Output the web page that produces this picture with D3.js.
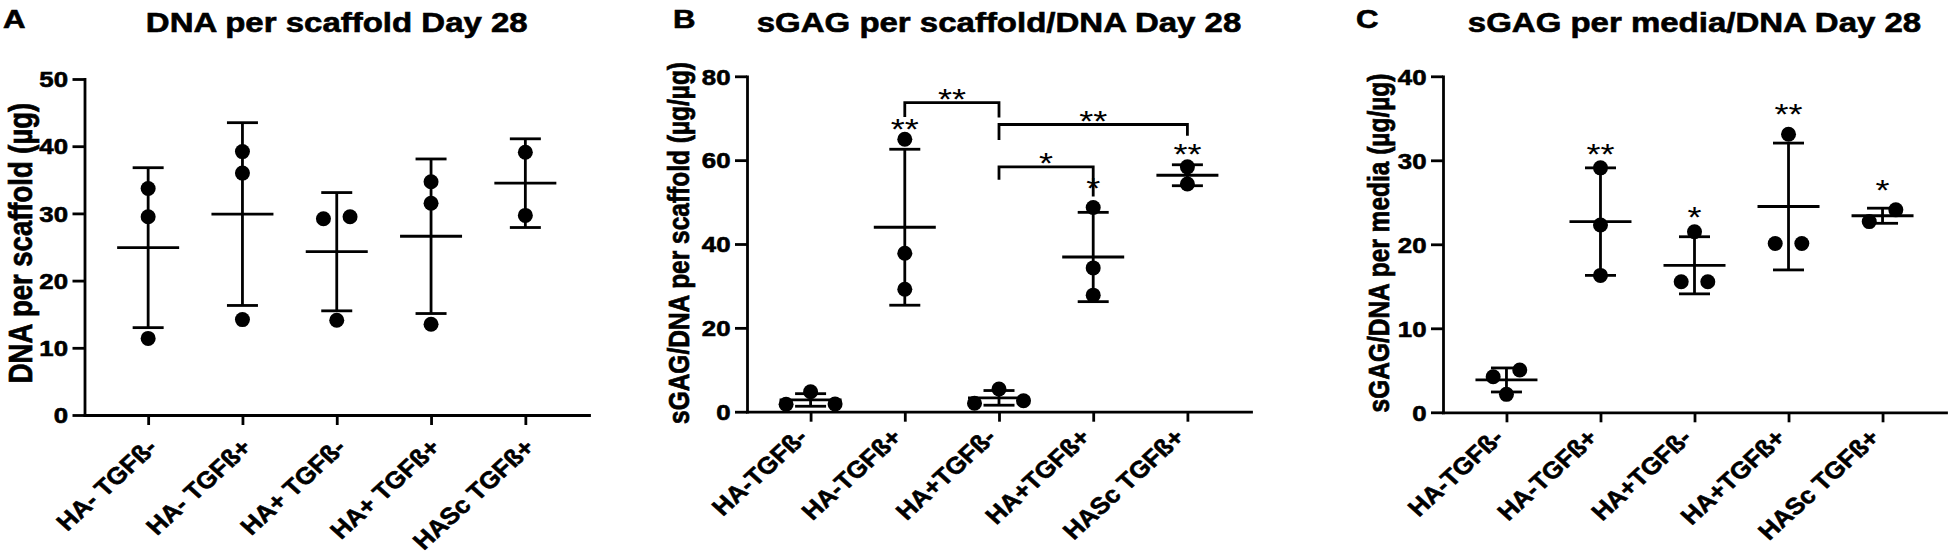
<!DOCTYPE html>
<html>
<head>
<meta charset="utf-8">
<script src="https://cdn.jsdelivr.net/npm/d3@7"></script>
<style>
  html, body { margin: 0; padding: 0; background: #fff; overflow: hidden; }
  text { font-family: "Liberation Sans", Arial, sans-serif; fill: #000; }
  text.heavy { stroke: #000; stroke-width: 0.6px; }
</style>
</head>
<body>
<svg id="chart" width="1950" height="559"></svg>
<script>
// x categories (panel A has a space after HA+/HA-)
const categoriesA = ["HA- TGFß-", "HA- TGFß+", "HA+ TGFß-", "HA+ TGFß+", "HASc TGFß+"];
const categoriesBC = ["HA-TGFß-", "HA-TGFß+", "HA+TGFß-", "HA+TGFß+", "HASc TGFß+"];

// A: DNA per scaffold (µg)
const dnaPoints = [[33.7, 29.5, 11.4], [39.2, 36.0, 14.2], [29.2, 29.5, 14.1], [34.7, 31.5, 13.5], [39.1, 29.7]];
const dnaMean = [24.9, 29.9, 24.3, 26.6, 34.5];
const dnaSD = [11.9, 13.6, 8.8, 11.5, 6.6];
const dnaTicks = [0, 10, 20, 30, 40, 50];

// B: sGAG per scaffold / DNA (µg/µg)
const scaffoldPoints = [[1.76, 4.77, 1.84], [65.0, 37.8, 29.2], [2.0, 5.4, 2.6], [48.7, 34.3, 27.8], [58.4, 54.3]];
const scaffoldMean = [2.8, 44.0, 3.3, 36.9, 56.4];
const scaffoldSD = [1.5, 18.6, 1.75, 10.65, 2.5];
const scaffoldTicks = [0, 20, 40, 60, 80];
const scaffoldStars = ["", "**", "", "*", "**"];
const scaffoldStarLevel = [null, 68.8, null, 54.6, 62.8];
// [from group, to group, bar level, left leg end, right leg end, label]
const scaffoldBrackets = [
  [1, 2, 73.7, 70.3, 70.2, "**"],
  [2, 4, 68.5, 64.8, 65.8, "**"],
  [2, 3, 58.4, 55.3, 51.3, "*"]
];

// C: sGAG per media / DNA (µg/µg)
const mediaPoints = [[4.24, 5.04, 2.14], [29.1, 22.3, 16.3], [21.5, 15.55, 15.55], [33.1, 20.1, 20.1], [22.7, 24.1]];
const mediaMean = [3.85, 22.7, 17.5, 24.5, 23.4];
const mediaSD = [1.43, 6.4, 3.4, 7.55, 0.9];
const mediaTicks = [0, 10, 20, 30, 40];
const mediaStars = ["", "**", "*", "**", "*"];
const mediaStarLevel = [null, 31.4, 23.9, 36.2, 27.1];

// the original figure is stretched sideways, so text gets the same stretch
const STRETCH = 1.2;
const LABEL_STRETCH = 1.1;
const LINE = 2.8;

const svg = d3.select('#chart');

// spread points that sit on top of each other sideways, like Prism does
function swarmOffsets(vals, y) {
    const order = vals.map((v, i) => i).sort((a, b) => vals[a] - vals[b]);
    const offs = vals.map(() => 0);
    let cluster = [order[0]];
    const flush = () => {
        if (cluster.length === 2) { offs[cluster[0]] = -13.3; offs[cluster[1]] = 13.3; }
        if (cluster.length === 3) { offs[cluster[0]] = -24.5; offs[cluster[1]] = 24.5; offs[cluster[2]] = 0; }
    };
    for (let k = 1; k < order.length; k++) {
        if (Math.abs(y(vals[order[k]]) - y(vals[order[k - 1]])) < 15) cluster.push(order[k]);
        else { flush(); cluster = [order[k]]; }
    }
    flush();
    return offs;
}

function drawPanel(p) {
    const g = svg.append('g');

    const x = d3.scalePoint().domain(p.categories).range([p.left, p.right]).padding(0.675);
    const y = d3.scaleLinear().domain([0, p.yTicks[p.yTicks.length - 1]]).range([p.bottom, p.top]);

    // y axis
    const yAxis = g.append('g')
        .attr('transform', `translate(${p.left},0)`)
        .call(d3.axisLeft(y).tickValues(p.yTicks).tickSize(12).tickSizeOuter(0).tickFormat(d3.format('d')));
    yAxis.selectAll('text')
        .attr('class', 'heavy')
        .attr('x', 0).attr('dy', '0.36em')
        .attr('transform', `translate(-16.5,0) scale(${STRETCH},1)`)
        .style('font-size', '21.5px').style('font-weight', 'bold');

    // x axis with rotated labels
    const xAxis = g.append('g')
        .attr('transform', `translate(0,${p.bottom})`)
        .call(d3.axisBottom(x).tickSize(10).tickSizeOuter(0));
    xAxis.selectAll('text')
        .attr('class', 'heavy')
        .attr('y', 0).attr('dy', 0).attr('text-anchor', 'end')
        .attr('transform', `translate(${p.labelDx},${p.labelDy}) scale(${LABEL_STRETCH},1) rotate(-45)`)
        .style('font-size', '23.5px').style('font-weight', 'bold');

    g.selectAll('.domain').attr('stroke-width', LINE).attr('stroke-linecap', 'square');
    g.selectAll('.tick line').attr('stroke-width', LINE);

    // points
    p.points.forEach((vals, i) => {
        const offs = swarmOffsets(vals, y);
        g.selectAll(null)
            .data(vals)
            .enter()
            .append('circle')
            .attr('cx', (d, j) => x(p.categories[i]) + offs[j])
            .attr('cy', d => y(d))
            .attr('r', 7.5)
            .attr('fill', '#000');
    });

    // mean line and SD error bars
    const groups = p.categories.map((c, i) => ({ c, m: p.means[i], s: p.sds[i] }));
    const bars = g.selectAll('.bar').data(groups).enter().append('g')
        .attr('stroke', '#000').attr('stroke-width', LINE);
    bars.append('line')
        .attr('x1', d => x(d.c) - 31).attr('x2', d => x(d.c) + 31)
        .attr('y1', d => y(d.m)).attr('y2', d => y(d.m));
    bars.append('line')
        .attr('x1', d => x(d.c)).attr('x2', d => x(d.c))
        .attr('y1', d => y(d.m - d.s)).attr('y2', d => y(d.m + d.s));
    bars.append('line')
        .attr('x1', d => x(d.c) - 15.5).attr('x2', d => x(d.c) + 15.5)
        .attr('y1', d => y(d.m + d.s)).attr('y2', d => y(d.m + d.s));
    bars.append('line')
        .attr('x1', d => x(d.c) - 15.5).attr('x2', d => x(d.c) + 15.5)
        .attr('y1', d => y(d.m - d.s)).attr('y2', d => y(d.m - d.s));

    // significance stars over groups
    if (p.stars) {
        const starData = p.stars.map((s, i) => ({ s, lvl: p.starLevels[i], c: p.categories[i] })).filter(d => d.s);
        g.selectAll('.star').data(starData).enter().append('text')
            .attr('text-anchor', 'middle')
            .attr('transform', d => `translate(${x(d.c)},${y(d.lvl) + 15.5}) scale(${STRETCH},1)`)
            .style('font-size', '30px')
            .text(d => d.s);
    }

    // comparison brackets
    if (p.brackets) {
        p.brackets.forEach(b => {
            const x1 = x(p.categories[b[0]]), x2 = x(p.categories[b[1]]);
            g.append('path')
                .attr('d', `M${x1},${y(b[3])}V${y(b[2])}H${x2}V${y(b[4])}`)
                .attr('fill', 'none').attr('stroke', '#000').attr('stroke-width', LINE);
            g.append('text')
                .attr('text-anchor', 'middle')
                .attr('transform', `translate(${(x1 + x2) / 2},${y(b[2]) - 10 + 16}) scale(${STRETCH},1)`)
                .style('font-size', '30px')
                .text(b[5]);
        });
    }

    // y axis title
    g.append('text')
        .attr('class', 'heavy')
        .attr('text-anchor', 'middle')
        .attr('transform', `translate(${p.yTitleX},243) scale(${STRETCH},1) rotate(-90)`)
        .style('font-size', p.yTitleSize + 'px').style('font-weight', 'bold')
        .text(p.yTitle);

    // chart title
    g.append('text')
        .attr('class', 'heavy')
        .attr('text-anchor', 'middle')
        .attr('transform', `translate(${(p.left + p.right) / 2},32.3) scale(${STRETCH},1)`)
        .style('font-size', '27.5px').style('font-weight', 'bold')
        .text(p.title);

    // panel letter
    g.append('text')
        .attr('class', 'heavy')
        .attr('transform', `translate(${p.letterX},27.8) scale(${STRETCH},1)`)
        .style('font-size', '26px').style('font-weight', 'bold')
        .text(p.letter);
}

drawPanel({
    letter: 'A', title: 'DNA per scaffold Day 28', yTitle: 'DNA per scaffold (µg)', yTitleSize: 27.5,
    categories: categoriesA, points: dnaPoints, means: dnaMean, sds: dnaSD, yTicks: dnaTicks,
    left: 84.5, right: 589, top: 79, bottom: 415,
    letterX: 3, yTitleX: 31.5, labelDx: 10, labelDy: 34
});

drawPanel({
    letter: 'B', title: 'sGAG per scaffold/DNA Day 28', yTitle: 'sGAG/DNA per scaffold (µg/µg)', yTitleSize: 24.5,
    categories: categoriesBC, points: scaffoldPoints, means: scaffoldMean, sds: scaffoldSD, yTicks: scaffoldTicks,
    stars: scaffoldStars, starLevels: scaffoldStarLevel, brackets: scaffoldBrackets,
    left: 747, right: 1251, top: 76.3, bottom: 411.7,
    letterX: 673, yTitleX: 689, labelDx: -2, labelDy: 27
});

drawPanel({
    letter: 'C', title: 'sGAG per media/DNA Day 28', yTitle: 'sGAG/DNA per media (µg/µg)', yTitleSize: 24.5,
    categories: categoriesBC, points: mediaPoints, means: mediaMean, sds: mediaSD, yTicks: mediaTicks,
    stars: mediaStars, starLevels: mediaStarLevel,
    left: 1443, right: 1946, top: 76.3, bottom: 412.3,
    letterX: 1356, yTitleX: 1389, labelDx: -2, labelDy: 27
});
</script>
</body>
</html>
